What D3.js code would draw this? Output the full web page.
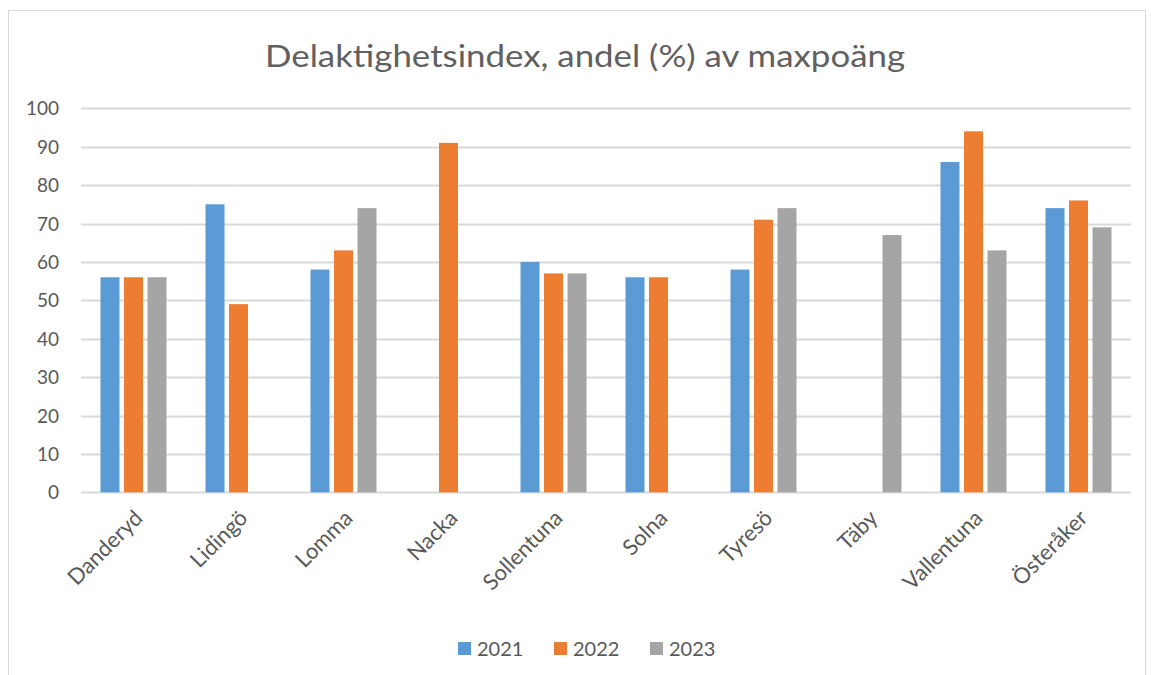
<!DOCTYPE html>
<html>
<head>
<meta charset="utf-8">
<script src="https://cdn.jsdelivr.net/npm/d3@7"></script>
<style>
  body { margin: 0; background: #fff; }
  text { font-family: Lato, "Open Sans", sans-serif; fill: #595959; }
</style>
</head>
<body>
<div id="chart"></div>
<script>
// chart data
var kommuner = ["Danderyd", "Lidingö", "Lomma", "Nacka", "Sollentuna", "Solna", "Tyresö", "Täby", "Vallentuna", "Österåker"];
var years = ["2021", "2022", "2023"];
var v2021 = [56, 75, 58, null, 60, 56, 58, null, 86, 74];
var v2022 = [56, 49, 63, 91, 57, 56, 71, null, 94, 76];
var v2023 = [56, null, 74, null, 57, null, 74, 67, 63, 69];
var yTicks = [0, 10, 20, 30, 40, 50, 60, 70, 80, 90, 100];
var colors = ["#5b9bd5", "#ed7d31", "#a5a5a5"];

var width = 1151, height = 675;

var svg = d3.select("#chart").append("svg")
    .attr("width", width)
    .attr("height", height);

// chart border
svg.append("rect")
    .attr("x", 8.5).attr("y", 10.5)
    .attr("width", 1137).attr("height", 680)
    .attr("fill", "none")
    .attr("stroke", "#d9d9d9");

svg.append("text")
    .attr("x", 585).attr("y", 67)
    .attr("text-anchor", "middle")
    .style("font-size", "30px")
    .style("fill", "#606060")
    .attr("textLength", 640)
    .attr("lengthAdjust", "spacingAndGlyphs")
    .text("Delaktighetsindex, andel (%) av maxpoäng");

var x = d3.scaleBand()
    .domain(kommuner)
    .range([81, 1131]);

var y = d3.scaleLinear()
    .domain([0, 100])
    .range([492.3, 108.3]);

var barW = 19, step = 23.5;
var groupW = 3 * barW + 2 * (step - barW);
var x1 = d3.scaleBand().domain(years).range([0, groupW]).paddingInner((step - barW) / step);

// gridlines
svg.append("g")
    .selectAll("line")
    .data(yTicks)
    .enter().append("line")
    .attr("x1", 81).attr("x2", 1131)
    .attr("y1", function (d) { return Math.round(y(d)) + 0.5; })
    .attr("y2", function (d) { return Math.round(y(d)) + 0.5; })
    .attr("stroke", "#d9d9d9")
    .attr("stroke-width", 2);

// y axis labels
var yAxis = svg.append("g")
    .attr("transform", "translate(59,0)")
    .call(d3.axisLeft(y).tickValues(yTicks).tickSize(0).tickPadding(0));
yAxis.select(".domain").remove();
yAxis.selectAll("text")
    .style("font-size", "19px")
    .attr("fill", "#595959")
    .attr("dy", "0.35em")
    .attr("font-family", null);

var series = [v2021, v2022, v2023];

series.forEach(function (vals, si) {
    svg.append("g")
        .selectAll("rect")
        .data(kommuner.map(function (k, i) { return {k: k, v: vals[i]}; })
            .filter(function (d) { return d.v != null; }))
        .enter().append("rect")
        .attr("x", function (d) {
            return x(d.k) + (x.bandwidth() - groupW) / 2 + x1(years[si]);
        })
        .attr("width", x1.bandwidth())
        .attr("y", function (d) { return y(d.v); })
        .attr("height", function (d) { return y(0) - y(d.v); })
        .attr("fill", colors[si]);
});

// category labels, rotated
svg.append("g")
    .selectAll("text")
    .data(kommuner)
    .enter().append("text")
    .attr("transform", function (d) {
        return "translate(" + (x(d) + x.bandwidth() / 2 + 5) + "," + 514 + ") rotate(-45)";
    })
    .attr("text-anchor", "end")
    .attr("dy", "0.35em")
    .style("font-size", "22px")
    .text(function (d) { return d; });

// legend
var legendX = [458, 554, 650];
var legend = svg.append("g")
    .selectAll("g")
    .data(years)
    .enter().append("g")
    .attr("transform", function (d, i) { return "translate(" + legendX[i] + ",642)"; });
legend.append("rect")
    .attr("width", 13).attr("height", 13)
    .attr("fill", function (d, i) { return colors[i]; });
legend.append("text")
    .attr("x", 19).attr("y", 14)
    .style("font-size", "20px")
    .text(function (d) { return d; });
</script>
</body>
</html>
